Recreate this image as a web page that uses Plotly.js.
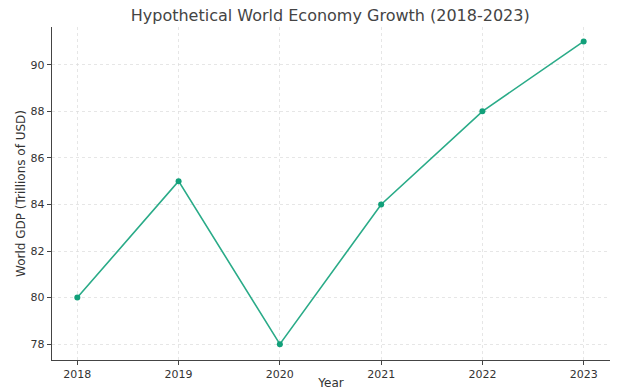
<!DOCTYPE html>
<html>
<head>
<meta charset="utf-8">
<script src="https://cdn.plot.ly/plotly-3.0.1.min.js"></script>
<style>html,body{margin:0;padding:0;background:#fff;}#chart{width:640px;height:390px;}</style>
</head>
<body>
<div id="chart"></div>
<script>
const years = [2018, 2019, 2020, 2021, 2022, 2023];
const gdp = [80, 85, 78, 84, 88, 91];
const yTicks = [78, 80, 82, 84, 86, 88, 90];

const trace = {
  x: years,
  y: gdp,
  type: 'scatter',
  mode: 'lines+markers',
  line: {color: '#2aab88', width: 1.6},
  marker: {color: '#12a07a', size: 6}
};

const layout = {
  width: 640, height: 390,
  margin: {l: 52, r: 30, t: 27, b: 30},
  paper_bgcolor: '#fff', plot_bgcolor: '#fff',
  font: {family: 'DejaVu Sans', color: '#333', size: 11},
  title: {text: 'Hypothetical World Economy Growth (2018-2023)', font: {size: 16, color: '#444'}, x: 0.516, xanchor: 'center', y: 0.96, yanchor: 'middle'},
  showlegend: false,
  xaxis: {
    range: [2017.75, 2023.26],
    tickvals: years, ticktext: years.map(String),
    showgrid: true, gridcolor: '#dcdcdc', griddash: 'dot', gridwidth: 0.7,
    showline: true, linecolor: '#444', linewidth: 1.2,
    ticks: 'outside', ticklen: 4, tickcolor: '#444', tickwidth: 1,
    zeroline: false,
    title: {text: 'Year', font: {size: 12, color: '#333'}, standoff: 3}
  },
  yaxis: {
    range: [77.32, 91.62],
    tickvals: yTicks,
    showgrid: true, gridcolor: '#dcdcdc', griddash: 'dot', gridwidth: 0.7,
    showline: true, linecolor: '#444', linewidth: 1.2,
    ticks: 'outside', ticklen: 4, tickcolor: '#444', tickwidth: 1,
    zeroline: false,
    title: {text: 'World GDP (Trillions of USD)', font: {size: 12, color: '#333'}, standoff: 2}
  }
};

Plotly.newPlot('chart', [trace], layout, {displayModeBar: false, staticPlot: true});
</script>
</body>
</html>
